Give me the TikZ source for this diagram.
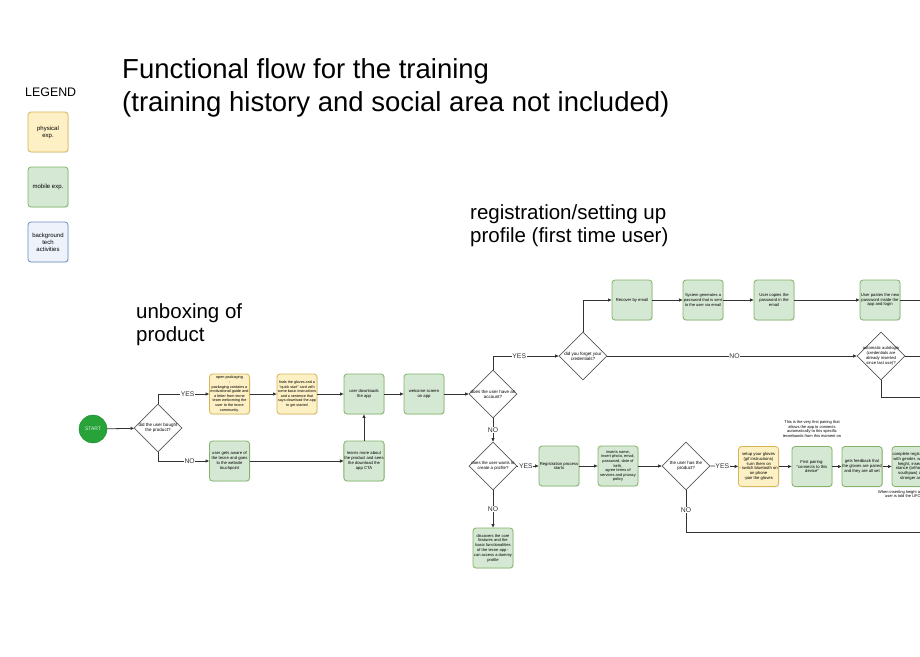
\documentclass[tikz,border=0pt]{standalone}
\usepackage{fontspec}
\setmainfont{Liberation Sans}
\usetikzlibrary{shapes.geometric,arrows.meta,shadows}
\definecolor{yfill}{HTML}{FDF0C4}
\definecolor{ydraw}{HTML}{D6B656}
\definecolor{gfill}{HTML}{D5E8D4}
\definecolor{gdraw}{HTML}{82B366}
\definecolor{bfill}{HTML}{EEF3FB}
\definecolor{bdraw}{HTML}{6C8EBF}
\definecolor{diagray}{HTML}{5A5A5A}
\definecolor{linec}{HTML}{333333}
\definecolor{startg}{HTML}{27A33A}
\tikzset{
  boxbase/.style={rectangle, rounded corners=3pt, minimum width=40pt, minimum height=40pt,
    inner sep=0.5pt, align=center, font=\fontsize{4.2}{4.8}\selectfont, line width=0.8pt,
    drop shadow={opacity=0.12, shadow xshift=1pt, shadow yshift=-1pt}},
  phys/.style={boxbase, fill=yfill, draw=ydraw},
  mob/.style={boxbase, fill=gfill, draw=gdraw},
  tech/.style={boxbase, fill=bfill, draw=bdraw},
  small/.style={font=\fontsize{3.8}{4.6}\selectfont},
  mid/.style={font=\fontsize{4.05}{4.8}\selectfont},
  dia/.style={diamond, draw=diagray, fill=white, minimum width=48pt, minimum height=48pt,
    inner sep=0pt, line width=0.7pt},
  dtext/.style={align=center, inner sep=0pt, font=\fontsize{4.5}{5.1}\selectfont},
  arr/.style={draw=linec, line width=0.8pt, -{Triangle[length=3.5pt,width=3pt]}},
  plain/.style={draw=linec, line width=0.8pt},
  lab/.style={fill=white, inner sep=0.6pt, font=\fontsize{6.8}{7}\selectfont, text=black!80},
  note/.style={align=center, inner sep=0pt, font=\fontsize{4}{4.7}\selectfont},
  titlef/.style={anchor=base west, inner sep=0pt, font=\fontsize{27.5}{33}\selectfont},
  headf/.style={anchor=base west, inner sep=0pt, font=\fontsize{20.5}{24}\selectfont},
}
\begin{document}
\begin{tikzpicture}[x=1pt,y=-1pt]
\useasboundingbox (0,0) rectangle (920,656);
\clip (0,0) rectangle (920,656);
\fill[white] (0,0) rectangle (920,656);

% titles
\node[titlef] (t1) at (122,78) {Functional flow for the training};
\node[titlef] (t2) at (122,111) {(training history and social area not included)};
\node[headf] (h1) at (470,219) {registration/setting up};
\node[headf] (h2) at (470,242) {profile (first time user)};
\node[headf] (h3) at (136,318) {unboxing of};
\node[headf] (h4) at (136,341) {product};

% legend
\node[anchor=base west, inner sep=0pt, font=\fontsize{12.4}{14}\selectfont] (leg) at (25,96) {LEGEND};
\node[phys, font=\fontsize{6}{7}\selectfont] (l1) at (48,132) {physical\\exp.};
\node[mob, font=\fontsize{6}{7}\selectfont] (l2) at (48,187) {mobile exp.};
\node[tech, font=\fontsize{6}{7}\selectfont] (l3) at (48,242) {background\\tech\\activities};

% unboxing
\node[circle, fill=startg, draw=startg!85!black, minimum size=28pt, inner sep=0pt,
  text=white!85!startg, font=\fontsize{5}{6}\selectfont] (st) at (93,429) {START};
\node[dia] (d1) at (158,428) {};
\node[dtext] at (d1) {did the user bought\\the product?};

\node[phys, small] (b1) at (229.5,394) {open packaging\\-\\packaging contains a\\motivational guide and\\a letter from tecne\\team welcoming the\\user to the tecne\\community.};
\node[phys, font=\fontsize{3.7}{4.6}\selectfont] (b2) at (297,394) {finds the gloves and a\\“quick start” card with\\some basic instructions\\and a sentence that\\says download the app\\to get started};
\node[mob] (b3) at (364,394) {user downloads\\the app};
\node[mob] (b4) at (424,394) {welcome screen\\on app};
\node[mob] (b5) at (229.5,461) {user gets aware of\\the tecne and goes\\to the website\\touchpoint};
\node[mob] (b6) at (364,461) {learns more about\\the product and sees\\the download the\\app CTA};

\draw[arr] (st) -- (d1);
\draw[arr] (d1.north) |- (b1.west) node[lab, pos=0.79] {YES};
\draw[arr] (d1.south) |- (b5.west) node[lab, pos=0.81] {NO};
\draw[arr] (b1) -- (b2);
\draw[arr] (b2) -- (b3);
\draw[arr] (b3) -- (b4);
\draw[arr] (b5) -- (b6);
\draw[arr] (b6) -- (b3);

% registration
\node[dia] (d2) at (493,394) {};
\node[dtext] at (d2) {does the user have an\\account?};
\node[dia] (d3) at (583,356) {};
\node[dtext] at (d3) {did you forget your\\credentials?};
\node[mob] (r1) at (632,300) {Recover by email};
\node[mob, mid] (r2) at (703,300) {System generates a\\password that is sent\\to the user via email};
\node[mob] (r3) at (774,300) {User copies the\\password in the\\email};
\node[mob] (r4) at (880,300) {User pastes the new\\password inside the\\app and login};
\node[dia] (d4) at (881,356) {};
\node[dtext, font=\fontsize{4.2}{4.8}\selectfont] at (d4) {automatic autologin\\(credentials are\\already inserted\\since last use)?};
\coordinate (e1) at (945,300);
\coordinate (e2) at (945,356);
\coordinate (e3) at (945,397);

\draw[arr] (b4) -- (d2);
\draw[arr] (d2.north) |- (d3.west) node[lab, pos=0.70] {YES};
\draw[arr] (d3.north) |- (r1.west);
\draw[arr] (r1) -- (r2);
\draw[arr] (r2) -- (r3);
\draw[arr] (r3) -- (r4);
\draw[plain] (r4.east) -- (e1);
\draw[arr] (d3.east) -- (d4.west) node[lab, pos=0.51] {NO};
\draw[plain] (d4.east) -- (e2) node[lab, pos=0.70] {YES};
\draw[plain] (d4.south) |- (e3) node[lab, pos=0.86] {NO};

\node[dia] (d5) at (493,466) {};
\node[dtext, font=\fontsize{4.3}{5}\selectfont] at (d5) {does the user wants to\\create a profile?};
\node[mob] (g1) at (559,466) {Registration process\\starts};
\node[mob, font=\fontsize{3.95}{4.6}\selectfont] (g2) at (618,466) {inserts name,\\insert photo, email,\\password, date of\\birth,\\agree terms of\\services and privacy\\policy};
\node[dia] (d6) at (686,466) {};
\node[dtext] at (d6) {the user has the\\product?};
\node[mob, mid] (dc) at (493,548) {discovers the core\\features and the\\basic functionalities\\of the tecne app -\\can access a dummy\\profile};
\node[phys] (s1) at (758.5,466.5) {setup your gloves\\(gif instructions)\\-turn them on\\- switch bluetooth on\\on phone\\-pair the gloves};
\node[mob] (s2) at (812,466.5) {First pairing:\\“connects to this\\device”};
\node[mob] (s3) at (862,466.5) {gets feedback that\\the gloves are paired\\and they are all set};
\node[mob] (s4) at (912,466.5) {complete registration\\with gender, weight,\\height, inseam,\\stance (orthodox/\\southpaw) and\\stronger arm};
\node[note] (n1) at (812,429) {This is the very first pairing that\\allows the app to connects\\automatically to this specific\\tecnebands from this moment on};
\node[note] (n2) at (911,494.5) {When inserting height and weight the\\user is told the UFC category};
\coordinate (e4) at (945,532);

\draw[arr] (d2.south) -- (d5.north) node[lab, midway] {NO};
\draw[arr] (d5.east) -- (g1.west) node[lab, pos=0.4] {YES};
\draw[arr] (d5.south) -- (dc.north) node[lab, midway] {NO};
\draw[arr] (g1) -- (g2);
\draw[arr] (g2) -- (d6);
\draw[arr] (d6.east) -- (s1.west) node[lab, pos=0.43] {YES};
\draw[plain] (d6.south) |- (e4) node[lab, pos=0.235] {NO};
\draw[arr] (s1) -- (s2);
\draw[arr] (s2) -- (s3);
\draw[arr] (s3) -- (s4);
\end{tikzpicture}
\end{document}
